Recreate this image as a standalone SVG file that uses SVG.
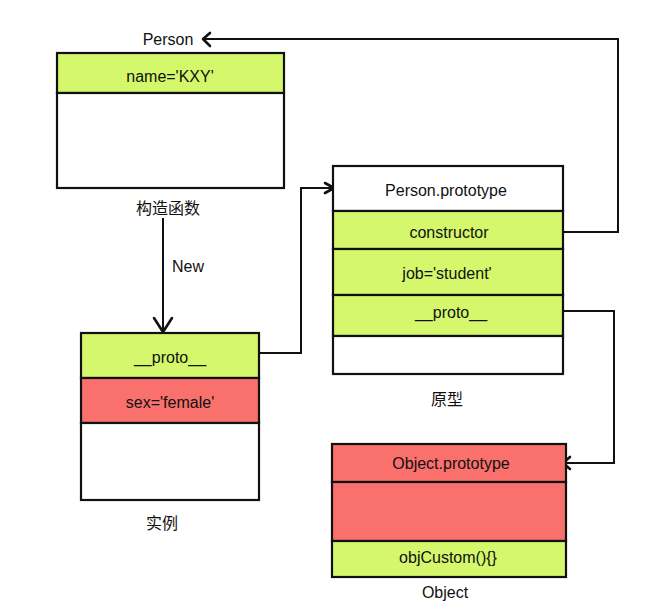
<svg xmlns="http://www.w3.org/2000/svg" width="654" height="608" viewBox="0 0 654 608">
<defs>
<style>
text{font-family:"Liberation Sans","Noto Sans CJK SC",sans-serif;font-size:16px;fill:#111;text-anchor:middle;dominant-baseline:central}
.box{stroke:#111;stroke-width:2.2}
.g{fill:#d4f76b}
.r{fill:#f9706c}
.w{fill:#fff}
.ln{fill:none;stroke:#111;stroke-width:2}
.ah{fill:none;stroke:#111;stroke-width:2.6;stroke-linecap:round;stroke-linejoin:round}
</style>
</defs>
<rect width="654" height="608" fill="#fff"/>
<g id="connectors">
<polyline class="ln" points="563,232 618,232 618,39 203,39"/>
<polyline class="ah" points="210,33 203,39 210,46"/>
<polyline class="ln" points="163,218 163,332"/>
<polyline class="ah" points="154,318 163,332 172,318"/>
<polyline class="ln" points="259,353 301,353 301,188 334,188"/>
<polyline class="ah" points="325,183 334,188 325,193"/>
<polyline class="ln" points="563,311 614,311 614,463 563,463"/>
<polyline class="ah" points="570,457 563,463 570,469"/>
</g>
<g id="constructor">
<rect class="box g" x="57" y="53" width="227" height="40"/>
<rect class="box w" x="57" y="93" width="227" height="95"/>
<text x="170" y="76">name='KXY'</text>
<text x="168" y="39">Person</text>
<text x="168" y="208">构造函数</text>
</g>
<text id="new-label" x="188" y="266">New</text>
<g id="instance">
<rect class="box g" x="81" y="333" width="178" height="45"/>
<rect class="box r" x="81" y="378" width="178" height="45"/>
<rect class="box w" x="81" y="423" width="178" height="77"/>
<text x="170" y="357">__proto__</text>
<text x="170" y="402">sex='female'</text>
<text x="162" y="523">实例</text>
</g>
<g id="prototype">
<rect class="box w" x="333" y="166" width="230" height="45"/>
<rect class="box g" x="333" y="211" width="230" height="38"/>
<rect class="box g" x="333" y="249" width="230" height="46"/>
<rect class="box g" x="333" y="295" width="230" height="41"/>
<rect class="box w" x="333" y="336" width="230" height="38"/>
<text x="446" y="190">Person.prototype</text>
<text x="449" y="232">constructor</text>
<text x="447" y="273">job='student'</text>
<text x="451" y="312">__proto__</text>
<text x="447" y="399">原型</text>
</g>
<g id="object">
<rect class="box r" x="332" y="444" width="234" height="38"/>
<rect class="box r" x="332" y="482" width="234" height="59"/>
<rect class="box g" x="332" y="541" width="234" height="36"/>
<text x="451" y="463">Object.prototype</text>
<text x="448" y="557">objCustom(){}</text>
<text x="445" y="592">Object</text>
</g>
</svg>
